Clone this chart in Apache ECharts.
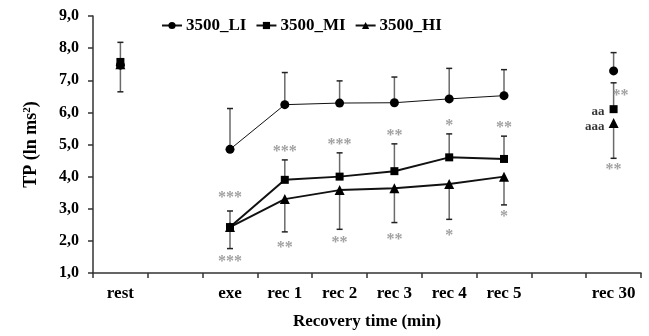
<!DOCTYPE html>
<html><head><meta charset="utf-8">
<script src="https://cdn.jsdelivr.net/npm/echarts@6/dist/echarts.min.js"></script>
<style>html,body{margin:0;padding:0;background:#fff}#c{width:649px;height:336px}</style>
</head><body><div id="c"></div>
<script>
// ---- data ----
const categories = ['rest', '', 'exe', 'rec 1', 'rec 2', 'rec 3', 'rec 4', 'rec 5', '', 'rec 30'];
const seriesNames = ['3500_LI', '3500_MI', '3500_HI'];
const li = [7.47, null, 4.85, 6.24, 6.29, 6.30, 6.42, 6.52, null, 7.29];
const mi = [7.57, null, 2.43, 3.90, 4.00, 4.17, 4.60, 4.55, null, 6.10];
const hi = [7.50, null, 2.43, 3.30, 3.58, 3.64, 3.77, 4.00, null, 5.67];
const liUpper = [8.18, null, 6.12, 7.24, 6.98, 7.10, 7.37, 7.33, null, 7.86];
const miUpper = [null, null, 2.93, 4.52, 4.74, 5.02, 5.33, 5.26, null, 6.92];
const hiLower = [6.64, null, 1.76, 2.28, 2.36, 2.57, 2.67, 3.12, null, 4.57];
const yMin = 1, yMax = 9, yStep = 1;
// annotations: category index, value, text, side of point
const annoCat = [2, 2, 3, 3, 4, 4, 5, 5, 6, 6, 7, 7, 9, 9, 9, 9];
const annoVal = [3.42, 1.45, 4.85, 1.89, 5.08, 2.04, 5.36, 2.14, 5.66, 2.25, 5.60, 2.85, 6.61, 4.29, 6.01, 5.57];
const annoText = ['***', '***', '***', '**', '***', '**', '**', '**', '*', '*', '**', '*', '**', '**', 'aa', 'aaa'];
const annoSide = ['c', 'c', 'c', 'c', 'c', 'c', 'c', 'c', 'c', 'c', 'c', 'c', 'r', 'c', 'l', 'l'];

// ---- styles ----
const FONT = '"Liberation Serif", "Times New Roman", serif';
const sideStyle = {
  c: {align: 'center', offset: [0, 3], color: '#8a8a8a', fontSize: 16},
  r: {align: 'left', offset: [-1, 3], color: '#8a8a8a', fontSize: 16},
  l: {align: 'right', offset: [-9, 0], color: '#000', fontSize: 13}
};

function errSeries(vals, ends) {
  const data = [];
  vals.forEach((v, i) => { if (v != null && ends[i] != null) data.push([i, v, ends[i]]); });
  return {
    type: 'custom', silent: true, z: 1, data: data,
    encode: {x: 0, y: [1, 2]},
    renderItem(params, api) {
      const p0 = api.coord([api.value(0), api.value(1)]);
      const p1 = api.coord([api.value(0), api.value(2)]);
      const w = 3;
      return {type: 'group', children: [
        {type: 'line', shape: {x1: p0[0], y1: p0[1], x2: p1[0], y2: p1[1]}, style: {stroke: '#6a6a6a', lineWidth: 1.5}},
        {type: 'line', shape: {x1: p1[0] - w, y1: p1[1], x2: p1[0] + w, y2: p1[1]}, style: {stroke: '#222', lineWidth: 1.5}}
      ]};
    }
  };
}

function lineSeries(name, vals, symbol, size, width) {
  return {
    name: name, type: 'line', data: vals, symbol: symbol, symbolSize: size,
    showSymbol: true, showAllSymbol: true, connectNulls: false, z: 3,
    lineStyle: {color: '#111', width: width},
    itemStyle: {color: '#000', borderWidth: 0}
  };
}

const annoData = annoCat.map((c, i) => {
  const s = sideStyle[annoSide[i]];
  return {
    value: [c, annoVal[i]],
    label: {show: true, formatter: annoText[i], position: 'inside', align: s.align, verticalAlign: 'middle',
      offset: s.offset, color: s.color, fontSize: s.fontSize, fontWeight: 'bold', fontFamily: FONT}
  };
});

const chart = echarts.init(document.getElementById('c'), null, {renderer: 'canvas'});
chart.setOption({
  animation: false,
  backgroundColor: '#fff',
  grid: {left: 93, right: 8, top: 16, bottom: 63, containLabel: false},
  legend: {
    data: seriesNames, left: 156, top: 12, itemWidth: 20, itemHeight: 9, itemGap: 9,
    textStyle: {fontFamily: FONT, fontWeight: 'bold', fontSize: 17, color: '#000', padding: [0, 0, 0, -1]}
  },
  xAxis: {
    type: 'category', data: categories, boundaryGap: true,
    name: 'Recovery time (min)', nameLocation: 'middle', nameGap: 40,
    nameTextStyle: {fontFamily: FONT, fontWeight: 'bold', fontSize: 17, color: '#000'},
    axisLine: {lineStyle: {color: '#333', width: 1.5}},
    axisTick: {show: true, interval: 0, length: 5, lineStyle: {color: '#333', width: 1.5}},
    axisLabel: {interval: 0, margin: 12, fontFamily: FONT, fontWeight: 'bold', fontSize: 17, color: '#000'},
    splitLine: {show: false}
  },
  yAxis: {
    type: 'value', min: yMin, max: yMax, interval: yStep,
    name: 'TP (ln ms{s|2})', nameLocation: 'middle', nameGap: 52, nameRotate: 90,
    nameTextStyle: {fontFamily: FONT, fontWeight: 'bold', fontSize: 18, color: '#000',
      rich: {s: {fontFamily: FONT, fontWeight: 'bold', fontSize: 11, color: '#000', verticalAlign: 'top', padding: [0, 0, 8, 0]}}},
    axisLine: {show: true, lineStyle: {color: '#333', width: 1.5}},
    axisTick: {show: true, length: 5, lineStyle: {color: '#333', width: 1.5}},
    axisLabel: {margin: 14, fontFamily: FONT, fontWeight: 'bold', fontSize: 16, color: '#000',
      formatter: v => v.toFixed(1).replace('.', ',')},
    splitLine: {show: false}
  },
  series: [
    errSeries(li, liUpper),
    errSeries(mi, miUpper),
    errSeries(hi, hiLower),
    lineSeries(seriesNames[0], li, 'circle', 9, 1),
    lineSeries(seriesNames[2], hi, 'triangle', 10, 2),
    lineSeries(seriesNames[1], mi, 'rect', 8, 2),
    {type: 'scatter', name: 'annotations', silent: true, z: 4, symbolSize: 0, data: annoData}
  ]
});
</script>
</body></html>
